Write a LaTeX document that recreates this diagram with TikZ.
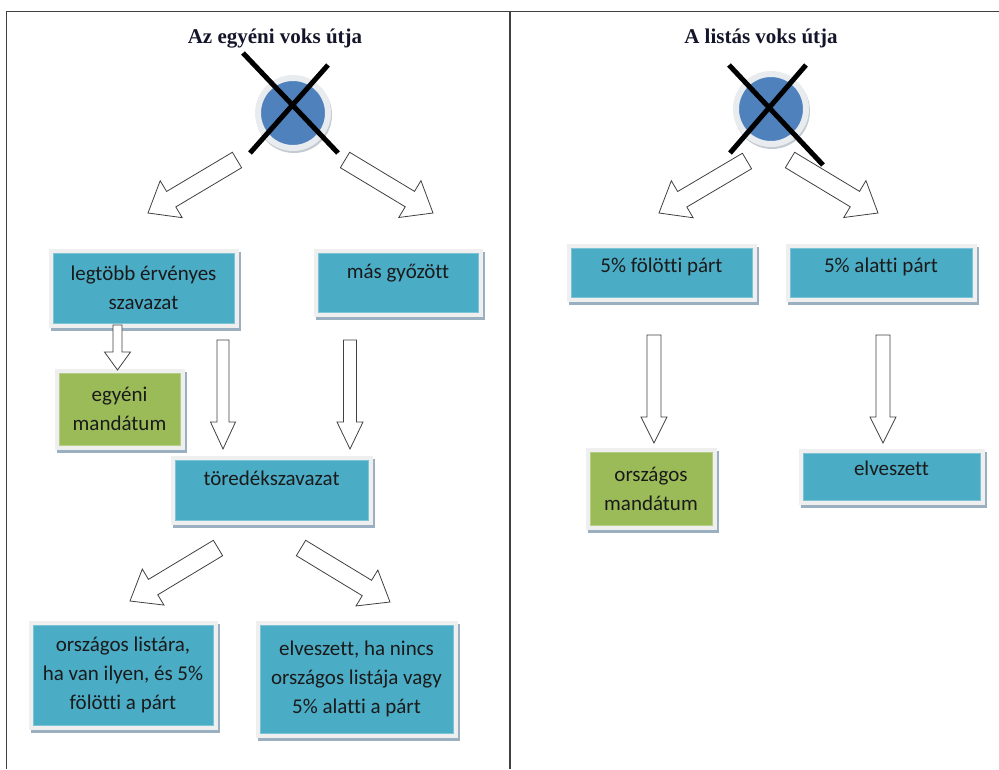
\documentclass[tikz,border=0pt]{standalone}
\usepackage{fontspec}
\setmainfont{Carlito}[Ligatures=NoCommon]
\newfontfamily\titlefont{Liberation Serif}
\usetikzlibrary{calc}
\definecolor{boxteal}{HTML}{4BACC6}
\definecolor{boxgreen}{HTML}{9BBB59}
\definecolor{framec}{HTML}{EFEFEF}
\definecolor{shadowc}{HTML}{9AAFBF}
\definecolor{ringc}{HTML}{E9ECEF}
\definecolor{ringsh}{HTML}{C3CAD2}
\definecolor{ballc}{HTML}{4F81BD}
\definecolor{linec}{HTML}{404040}
\definecolor{txtc}{HTML}{1A1A1A}
\definecolor{tealedge}{HTML}{7CC3D6}
\definecolor{greenedge}{HTML}{B5CD85}
\definecolor{titlec}{HTML}{14142A}
\newcommand\blockarr[5]{%
  \coordinate (bah) at ($(#2)!#5!(#1)$);
  \draw[barrow] ($(#1)!#3/2!90:(#2)$) -- ($(bah)!#3/2!90:(#2)$) -- ($(bah)!#4/2!90:(#2)$) -- (#2)
    -- ($(bah)!#4/2!-90:(#2)$) -- ($(bah)!#3/2!-90:(#2)$) -- ($(#1)!#3/2!-90:(#2)$) -- cycle;}
\begin{document}
\begin{tikzpicture}[x=1pt,y=1pt,
  box/.style={rectangle, inner sep=0pt, align=center, text=txtc,
    font=\fontsize{21}{29}\selectfont, line width=0.6pt,
    preaction={draw=shadowc, fill=shadowc, line width=9pt, transform canvas={shift={(2pt,-3pt)}}},
    preaction={draw=framec, line width=9pt}},
  tbox/.style={box, fill=boxteal, draw=tealedge},
  gbox/.style={box, fill=boxgreen, draw=greenedge},
  titlenode/.style={anchor=base, text=titlec, font=\titlefont\bfseries\fontsize{21}{24}\selectfont},
  ball/.style={circle, inner sep=0pt, minimum size=70pt, fill=ballc, draw=ringc, line width=6pt,
    preaction={draw=ringsh, fill=ringsh, line width=6pt, transform canvas={shift={(1pt,-2pt)}}}},
  xline/.style={black, line width=5pt},
  barrow/.style={draw=linec, fill=white, line width=0.8pt, line join=miter},
  frameline/.style={linec, line width=1.5pt}
]
\useasboundingbox (0,0) rectangle (999,-769);
% frame
\draw[frameline] (6.5,-769) -- (6.5,-11.5) -- (999,-11.5);
\draw[frameline] (510,-11.5) -- (510,-769);

% titles
\node[titlenode] (t1) at (275,-43) {Az egyéni voks útja};
\node[titlenode] (t2) at (761,-43) {A listás voks útja};

% balls
\node[ball] (ball1) at (293,-113) {};
\node[ball] (ball2) at (771,-109) {};
\coordinate (xa1) at (243,-53);  \coordinate (xa2) at (338,-153);
\coordinate (xb1) at (328,-65);  \coordinate (xb2) at (250,-153);
\coordinate (xc1) at (729,-65);  \coordinate (xc2) at (823,-165);
\coordinate (xd1) at (806,-65);  \coordinate (xd2) at (730,-153);
\draw[xline] (xa1) -- (xa2);
\draw[xline] (xb1) -- (xb2);
\draw[xline] (xc1) -- (xc2);
\draw[xline] (xd1) -- (xd2);

% boxes left
\node[tbox, minimum width=181pt, minimum height=70pt] (lt) at (143.5,-288) {legtöbb érvényes\\szavazat};
\node[tbox, minimum width=160pt, text height=25pt, text depth=34pt] (mg) at (398,-282.5) {más győzött};
\node[gbox, minimum width=121pt, minimum height=72pt] (em) at (119.5,-409) {egyéni\\mandátum};
\node[tbox, minimum width=193pt, text height=25pt, text depth=35pt] (tr) at (271.5,-490) {töredékszavazat};
\node[tbox, minimum width=180pt, minimum height=100pt] (ol) at (123,-675) {országos listára,\\ha van ilyen, és 5\%\\fölötti a párt};
\node[tbox, minimum width=193pt, minimum height=108pt] (el) at (356.5,-679) {elveszett, ha nincs\\országos listája vagy\\5\% alatti a párt};
% boxes right
\node[tbox, minimum width=181pt, text height=24pt, text depth=25pt] (fp) at (661.5,-272.5) {5\% fölötti párt};
\node[tbox, minimum width=182pt, text height=24pt, text depth=25pt] (ap) at (881,-272.5) {5\% alatti párt};
\node[gbox, minimum width=122pt, minimum height=73pt] (om) at (651,-488.5) {országos\\mandátum};
\node[tbox, minimum width=177pt, text height=22pt, text depth=25pt] (ev) at (891.5,-476.5) {elveszett};

% arrow ends
\coordinate (a1t) at (237,-160);   \coordinate (a1h) at (148,-213);
\coordinate (a2t) at (345,-160);   \coordinate (a2h) at (433,-213);
\coordinate (a3t) at (117.5,-325); \coordinate (a3h) at (117.5,-370);
\coordinate (a4t) at (223,-340);   \coordinate (a4h) at (223,-449);
\coordinate (a5t) at (350,-340);   \coordinate (a5h) at (350,-449);
\coordinate (a6t) at (218,-548);   \coordinate (a6h) at (130,-601);
\coordinate (a7t) at (301,-548);   \coordinate (a7h) at (390,-602);
\coordinate (a8t) at (747,-161);   \coordinate (a8h) at (659,-213);
\coordinate (a9t) at (790,-160);   \coordinate (a9h) at (878,-213);
\coordinate (a10t) at (654,-335);  \coordinate (a10h) at (654,-443);
\coordinate (a11t) at (883,-335);  \coordinate (a11h) at (883,-443);

\blockarr{a1t}{a1h}{18pt}{43pt}{27pt}
\blockarr{a2t}{a2h}{18pt}{43pt}{27pt}
\blockarr{a3t}{a3h}{9pt}{26pt}{18pt}
\blockarr{a4t}{a4h}{12pt}{25pt}{27pt}
\blockarr{a5t}{a5h}{13pt}{26pt}{27pt}
\blockarr{a6t}{a6h}{18pt}{42pt}{27pt}
\blockarr{a7t}{a7h}{18pt}{42pt}{27pt}
\blockarr{a8t}{a8h}{18pt}{43pt}{27pt}
\blockarr{a9t}{a9h}{18pt}{43pt}{27pt}
\blockarr{a10t}{a10h}{14pt}{26pt}{26pt}
\blockarr{a11t}{a11h}{14pt}{26pt}{26pt}
\end{tikzpicture}
\end{document}
